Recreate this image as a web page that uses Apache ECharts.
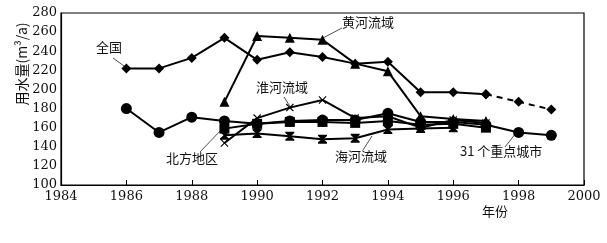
<!DOCTYPE html>
<html><head><meta charset="utf-8">
<script src="https://cdn.jsdelivr.net/npm/echarts@6/dist/echarts.min.js"></script>
<style>html,body{margin:0;padding:0;background:#fff}#c{width:607px;height:243px}</style>
</head><body><div id="c"></div>
<script>
// years and values
const yearsAll = [1986,1987,1988,1989,1990,1991,1992,1993,1994,1995,1996,1997,1998,1999];
const years89 = [1989,1990,1991,1992,1993,1994,1995,1996,1997];
const quanguo = [222,222,233,254,231,239,234,227,229,197,197,195];          // 1986-1997 solid
const quanguoForecast = [195,187,179];                                      // 1997-1999 dashed
const forecastYears = [1997,1998,1999];
const huanghe = [187,256,254,252,227,219,172,169,167];                      // 1989-1997
const cities31 = [180,155,171,167,164,167,168,168,175,166,166,163,155,152]; // 1986-1999
const beifang = [159,164,166,166,165,167,163,164,160];                      // 1989-1997
const huaihe = [144,170,181,189,170,172,160,168,165];                       // 1989-1997
const haiheYears = [1989,1990,1991,1992,1993,1994,1995,1996];
const haihe = [152,154,151,148,149,158,159,160];
const xTicks = [1984,1986,1988,1990,1992,1994,1996,1998,2000];
const yTicks = [100,120,140,160,180,200,220,240,260,280];

function pairs(xs, ys){ return ys.map((v,i)=>[xs[i], v]); }

const XSYM = 'path://M0,1L1,0L5,4L9,0L10,1L6,5L10,9L9,10L5,6L1,10L0,9L4,5Z';
const ASYM = 'path://M0,0L10,0L10,1.4L6,5L10,8.6L10,10L0,10L0,8.6L4,5L0,1.4Z M4.3,0L5.7,0L5.7,10L4.3,10Z';

const serif = 'DejaVu Serif';
const cjk = '"Noto Sans CJK SC",sans-serif';

function line(name, data, symbol, size, dashed){
  return {
    name, type:'line', data, symbol, symbolSize:size, showSymbol:true,
    lineStyle:{color:'#000', width:2, type: dashed?[6,5]:'solid'},
    itemStyle:{color:'#000', borderColor:'#000', borderWidth:0},
    z: 3, animation:false
  };
}

const chart = echarts.init(document.getElementById('c'));
const txt = (t, x, y) => ({type:'text', left:x, top:y, style:{text:t, fill:'#111', font:'13px '+cjk}});
const seg = (x1,y1,x2,y2) => ({type:'line', shape:{x1,y1,x2,y2}, style:{stroke:'#222', lineWidth:0.8}});

chart.setOption({
  animation:false,
  grid:{left:61, right:23, top:13, bottom:58, show:true, borderColor:'#000', borderWidth:1.2, backgroundColor:'transparent'},
  xAxis:{type:'value', min:1984, max:2000, interval:2,
    axisLine:{lineStyle:{color:'#000', width:1.2}},
    axisTick:{show:true, inside:true, length:5, lineStyle:{color:'#000'}},
    axisLabel:{color:'#111', fontFamily:serif, fontSize:13, margin:5, formatter:v=>String(v)},
    splitLine:{show:false}},
  yAxis:{type:'value', min:100, max:280, interval:20,
    axisLine:{show:true, lineStyle:{color:'#000', width:1.2}},
    axisTick:{show:false},
    axisLabel:{color:'#111', fontFamily:serif, fontSize:13, margin:4},
    splitLine:{show:false}},
  series:[
    line('全国', pairs(yearsAll, quanguo), 'diamond', 10),
    line('全国预测', pairs(forecastYears, quanguoForecast), 'diamond', 10, true),
    line('黄河流域', pairs(years89, huanghe), 'triangle', 10),
    line('31个重点城市', pairs(yearsAll, cities31), 'circle', 11),
    line('北方地区', pairs(years89, beifang), 'rect', 10),
    line('淮河流域', pairs(years89, huaihe), XSYM, 8),
    line('海河流域', pairs(haiheYears, haihe), ASYM, 9)
  ],
  graphic:[
    txt('全国', 96, 41),
    seg(113,58,124,66),
    txt('黄河流域', 342, 16),
    seg(342,28,323,38),
    txt('淮河流域', 256, 81),
    seg(284,97,291,108),
    txt('北方地区', 166, 152),
    seg(200,152,222,129),
    txt('海河流域', 335, 150),
    seg(363,150,372,136),
    txt('31 个重点城市', 460, 145),
    seg(505,147,516,133),
    txt('年份', 482, 205),
    {type:'text', x:22, y:64, rotation:Math.PI/2, style:{text:'用水量(m³/a)', fill:'#111', font:'14px '+cjk, align:'center', verticalAlign:'middle'}}
  ]
});
</script></body></html>
